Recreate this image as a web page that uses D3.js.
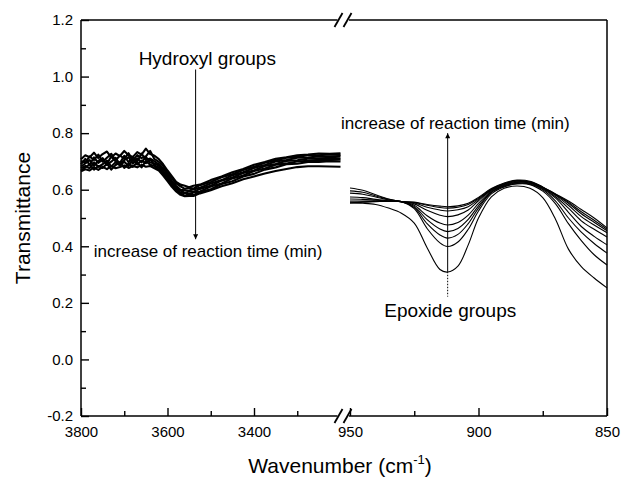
<!DOCTYPE html>
<html lang="en">
  <head>
    <meta charset="UTF-8" />
    <title>Transmittance vs Wavenumber</title>
    <script src="https://d3js.org/d3.v7.min.js"></script>
    <style>
      body {
        margin: 0;
        background: #fff;
        font-family: "Liberation Sans", Arial, Helvetica, sans-serif;
      }
      .tick text {
        font-size: 15px;
        fill: #000;
        font-family: "Liberation Sans", Arial, sans-serif;
      }
      .spectrum {
        fill: none;
        stroke: #000;
        stroke-linejoin: round;
      }
      .frame line {
        stroke: #000;
        stroke-width: 1.5;
      }
    </style>
  </head>
  <body>
    <div id="chart"></div>
    <script>
      // ---- data ----
      // hydroxyl region (left panel)
      const ohWavenumber = [
        3800, 3790, 3780, 3770, 3760, 3750, 3740, 3730, 3720, 3710, 3700, 3690,
        3680, 3670, 3660, 3650, 3640, 3630, 3620, 3610, 3600, 3590, 3580, 3570,
        3560, 3550, 3540, 3525, 3500, 3475, 3450, 3425, 3400, 3375, 3350, 3325,
        3300, 3275, 3250, 3225, 3200,
      ];
      const ohRun1 = [
        0.708, 0.722, 0.715, 0.731, 0.712, 0.726, 0.735, 0.714, 0.728, 0.719,
        0.737, 0.722, 0.716, 0.733, 0.724, 0.745, 0.726, 0.72, 0.708, 0.69, 0.668,
        0.648, 0.628, 0.618, 0.614, 0.609, 0.614, 0.618, 0.634, 0.647, 0.662,
        0.673, 0.688, 0.698, 0.709, 0.715, 0.722, 0.724, 0.728, 0.727, 0.729,
      ];
      const ohRun2 = [
        0.702, 0.696, 0.718, 0.705, 0.724, 0.699, 0.713, 0.727, 0.704, 0.721,
        0.71, 0.729, 0.703, 0.722, 0.712, 0.718, 0.737, 0.708, 0.698, 0.684, 0.66,
        0.642, 0.622, 0.612, 0.603, 0.607, 0.604, 0.616, 0.627, 0.644, 0.655,
        0.67, 0.681, 0.695, 0.703, 0.713, 0.716, 0.722, 0.722, 0.725, 0.723,
      ];
      const ohRun3 = [
        0.69, 0.709, 0.688, 0.714, 0.695, 0.706, 0.691, 0.718, 0.7, 0.694, 0.72,
        0.697, 0.716, 0.7, 0.728, 0.705, 0.71, 0.7, 0.69, 0.675, 0.655, 0.632,
        0.614, 0.6, 0.598, 0.597, 0.602, 0.607, 0.622, 0.634, 0.651, 0.662, 0.677,
        0.687, 0.7, 0.705, 0.713, 0.714, 0.718, 0.717, 0.719,
      ];
      const ohRun4 = [
        0.682, 0.693, 0.705, 0.684, 0.702, 0.712, 0.688, 0.699, 0.713, 0.69,
        0.705, 0.715, 0.692, 0.711, 0.697, 0.716, 0.696, 0.693, 0.684, 0.666,
        0.648, 0.626, 0.607, 0.598, 0.589, 0.594, 0.593, 0.603, 0.614, 0.632,
        0.643, 0.659, 0.668, 0.684, 0.691, 0.702, 0.704, 0.71, 0.71, 0.713, 0.711,
      ];
      const ohRun5 = [
        0.676, 0.684, 0.676, 0.697, 0.681, 0.69, 0.703, 0.682, 0.697, 0.686,
        0.699, 0.684, 0.706, 0.689, 0.703, 0.694, 0.708, 0.686, 0.678, 0.66,
        0.643, 0.62, 0.604, 0.59, 0.588, 0.584, 0.59, 0.594, 0.611, 0.622, 0.64,
        0.65, 0.666, 0.675, 0.688, 0.693, 0.7, 0.702, 0.706, 0.705, 0.707,
      ];
      const ohRun6 = [
        0.668, 0.679, 0.69, 0.671, 0.684, 0.677, 0.692, 0.671, 0.687, 0.698,
        0.677, 0.693, 0.681, 0.696, 0.679, 0.701, 0.688, 0.684, 0.671, 0.655,
        0.634, 0.616, 0.597, 0.588, 0.578, 0.585, 0.581, 0.592, 0.602, 0.62, 0.63,
        0.647, 0.656, 0.671, 0.679, 0.69, 0.692, 0.698, 0.698, 0.701, 0.7,
      ];
      const ohRun7 = [
        0.665, 0.672, 0.668, 0.679, 0.67, 0.681, 0.673, 0.684, 0.676, 0.68, 0.686,
        0.677, 0.684, 0.679, 0.688, 0.681, 0.684, 0.676, 0.668, 0.65, 0.63, 0.61,
        0.594, 0.582, 0.577, 0.578, 0.578, 0.587, 0.598, 0.612, 0.623, 0.637,
        0.647, 0.657, 0.666, 0.673, 0.68, 0.683, 0.683, 0.682, 0.681,
      ];
      const ohSeries = [ohRun1, ohRun2, ohRun3, ohRun4, ohRun5, ohRun6, ohRun7];

      // epoxide region (right panel)
      const epWavenumber = [
        950, 945, 940, 935, 930, 925, 920, 915, 912, 908, 904, 900, 895, 890, 885,
        880, 875, 870, 865, 860, 855, 850,
      ];
      const epRun0 = [
        0.553, 0.552, 0.548, 0.535, 0.517, 0.482, 0.395, 0.318, 0.309, 0.33, 0.405,
        0.5, 0.575, 0.605, 0.613, 0.605, 0.572, 0.495, 0.39, 0.328, 0.288, 0.253,
      ];
      const epRun1 = [
        0.553, 0.556, 0.558, 0.559, 0.558, 0.533, 0.463, 0.412, 0.399, 0.415, 0.46,
        0.525, 0.585, 0.61, 0.62, 0.618, 0.595, 0.55, 0.48, 0.42, 0.37, 0.334,
      ];
      const epRun2 = [
        0.556, 0.557, 0.559, 0.559, 0.558, 0.537, 0.48, 0.44, 0.429, 0.442, 0.48,
        0.535, 0.59, 0.612, 0.622, 0.62, 0.6, 0.56, 0.5, 0.45, 0.41, 0.376,
      ];
      const epRun3 = [
        0.56, 0.56, 0.56, 0.559, 0.558, 0.541, 0.494, 0.461, 0.452, 0.463, 0.495,
        0.543, 0.592, 0.614, 0.624, 0.622, 0.603, 0.57, 0.52, 0.47, 0.435, 0.405,
      ];
      const epRun4 = [
        0.567, 0.566, 0.563, 0.56, 0.558, 0.545, 0.508, 0.482, 0.475, 0.484, 0.51,
        0.552, 0.595, 0.616, 0.626, 0.624, 0.605, 0.575, 0.535, 0.49, 0.46, 0.433,
      ];
      const epRun5 = [
        0.574, 0.572, 0.566, 0.561, 0.558, 0.55, 0.527, 0.51, 0.505, 0.511, 0.528,
        0.561, 0.598, 0.618, 0.628, 0.626, 0.607, 0.58, 0.545, 0.505, 0.475, 0.448,
      ];
      const epRun6 = [
        0.588, 0.584, 0.574, 0.564, 0.558, 0.553, 0.538, 0.528, 0.525, 0.529, 0.54,
        0.566, 0.6, 0.62, 0.63, 0.627, 0.608, 0.582, 0.552, 0.515, 0.485, 0.455,
      ];
      const epRun7 = [
        0.596, 0.591, 0.578, 0.566, 0.558, 0.555, 0.545, 0.537, 0.535, 0.538, 0.548,
        0.57, 0.602, 0.622, 0.632, 0.628, 0.609, 0.584, 0.556, 0.522, 0.492, 0.46,
      ];
      const epRun8 = [
        0.606, 0.598, 0.582, 0.567, 0.558, 0.556, 0.548, 0.542, 0.54, 0.543, 0.552,
        0.573, 0.604, 0.624, 0.634, 0.63, 0.61, 0.585, 0.56, 0.53, 0.5, 0.465,
      ];
      const epSeries = [
        epRun0, epRun1, epRun2, epRun3, epRun4, epRun5, epRun6, epRun7, epRun8,
      ];

      // ticks
      const yTicks = [-0.2, 0, 0.2, 0.4, 0.6, 0.8, 1.0, 1.2];
      const yMinor = [-0.1, 0.1, 0.3, 0.5, 0.7, 0.9, 1.1];
      const xLeftTicks = [3800, 3600, 3400];
      const xLeftMinor = [3700, 3500, 3300];
      const xRightTicks = [950, 900, 850];
      const xRightMinor = [925, 875];

      // ---- layout ----
      const W = 621,
        H = 481;
      const plot = { left: 81, right: 607, top: 20, bottom: 416 };
      const breakLeft = 340.5,
        breakRight = 350;

      const svg = d3
        .select("#chart")
        .append("svg")
        .attr("width", W)
        .attr("height", H);

      const y = d3.scaleLinear().domain([-0.2, 1.2]).range([plot.bottom, plot.top]);
      const xL = d3.scaleLinear().domain([3800, 3200]).range([plot.left, breakLeft]);
      const xR = d3.scaleLinear().domain([950, 850]).range([breakRight, plot.right]);

      // y axis: ticks point into the plot, labels outside
      function yAxis(values, len, labels) {
        const g = svg
          .append("g")
          .attr("transform", `translate(${plot.left},0)`)
          .call(d3.axisRight(y).tickValues(values).tickSize(len).tickFormat((d) => (labels ? d.toFixed(1) : "")));
        g.select(".domain").remove();
        g.selectAll(".tick line").attr("stroke", "#000").attr("stroke-width", 1.4);
        g.selectAll(".tick text").attr("x", -8).attr("text-anchor", "end");
      }
      yAxis(yTicks, 8, true);
      yAxis(yMinor, 5, false);

      // bottom axes, one per panel
      function xAxis(sc, values, len, labels) {
        const g = svg
          .append("g")
          .attr("transform", `translate(0,${plot.bottom})`)
          .call(d3.axisTop(sc).tickValues(values).tickSize(len).tickFormat(labels ? d3.format("d") : () => ""));
        g.select(".domain").remove();
        g.selectAll(".tick line").attr("stroke", "#000").attr("stroke-width", 1.4);
        g.selectAll(".tick text").attr("y", 10).attr("dy", "0.71em");
      }
      xAxis(xL, xLeftTicks, 8, true);
      xAxis(xL, xLeftMinor, 5, false);
      xAxis(xR, xRightTicks, 8, true);
      xAxis(xR, xRightMinor, 5, false);

      // frame with axis break
      const gap0 = breakLeft - 3,
        gap1 = breakRight - 1;
      const frame = svg.append("g").attr("class", "frame");
      [
        [plot.left, plot.top, plot.left, plot.bottom],
        [plot.right, plot.top, plot.right, plot.bottom],
        [plot.left, plot.top, gap0, plot.top],
        [gap1, plot.top, plot.right, plot.top],
        [plot.left, plot.bottom, gap0, plot.bottom],
        [gap1, plot.bottom, plot.right, plot.bottom],
      ].forEach(([x1, y1, x2, y2]) => {
        frame.append("line").attr("x1", x1).attr("y1", y1).attr("x2", x2).attr("y2", y2);
      });
      [plot.top, plot.bottom].forEach((yy) => {
        [gap0 - 3, gap0 + 6].forEach((xx) => {
          svg
            .append("line")
            .attr("x1", xx)
            .attr("y1", yy + 7)
            .attr("x2", xx + 8)
            .attr("y2", yy - 7)
            .attr("stroke", "#000")
            .attr("stroke-width", 1.8);
        });
      });

      // spectra
      const lineL = d3
        .line()
        .x((d) => xL(d[0]))
        .y((d) => y(d[1]));
      ohSeries.forEach((run) => {
        svg
          .append("path")
          .attr("class", "spectrum")
          .attr("stroke-width", 2.1)
          .attr("d", lineL(d3.zip(ohWavenumber, run)));
      });

      const lineR = d3
        .line()
        .x((d) => xR(d[0]))
        .y((d) => y(d[1]))
        .curve(d3.curveCatmullRom.alpha(0.5));
      epSeries.forEach((run) => {
        svg
          .append("path")
          .attr("class", "spectrum")
          .attr("stroke-width", 1.1)
          .attr("d", lineR(d3.zip(epWavenumber, run)));
      });

      // annotations
      const defs = svg.append("defs");
      defs
        .append("marker")
        .attr("id", "head")
        .attr("viewBox", "0 0 10 10")
        .attr("refX", 10)
        .attr("refY", 5)
        .attr("markerWidth", 9)
        .attr("markerHeight", 5)
        .attr("markerUnits", "userSpaceOnUse")
        .attr("orient", "auto")
        .append("path")
        .attr("d", "M0,0 L10,5 L0,10 Z")
        .attr("fill", "#000");

      svg
        .append("line")
        .attr("x1", xL(3535))
        .attr("x2", xL(3535))
        .attr("y1", y(1.025))
        .attr("y2", y(0.425))
        .attr("stroke", "#000")
        .attr("stroke-width", 1)
        .attr("marker-end", "url(#head)");

      svg
        .append("line")
        .attr("x1", xR(912))
        .attr("x2", xR(912))
        .attr("y1", y(0.31))
        .attr("y2", y(0.8))
        .attr("stroke", "#000")
        .attr("stroke-width", 1)
        .attr("marker-end", "url(#head)");
      svg
        .append("line")
        .attr("x1", xR(912))
        .attr("x2", xR(912))
        .attr("y1", y(0.31))
        .attr("y2", y(0.222))
        .attr("stroke", "#000")
        .attr("stroke-width", 1)
        .attr("stroke-dasharray", "1.5,1.5");

      const notes = [
        { text: "Hydroxyl groups", x: xL(3508), y: y(1.041), size: 19 },
        { text: "increase of reaction time (min)", x: xL(3506), y: y(0.363), size: 17 },
        { text: "increase of reaction time (min)", x: xR(909), y: y(0.813), size: 17 },
        { text: "Epoxide groups", x: xR(911), y: y(0.15), size: 19 },
      ];
      notes.forEach((n) => {
        svg
          .append("text")
          .attr("x", n.x)
          .attr("y", n.y)
          .attr("text-anchor", "middle")
          .attr("font-size", n.size)
          .text(n.text);
      });

      // axis titles
      svg
        .append("text")
        .attr("transform", `translate(30,${(plot.top + plot.bottom) / 2}) rotate(-90)`)
        .attr("text-anchor", "middle")
        .attr("font-size", 21)
        .text("Transmittance");

      const xTitle = svg
        .append("text")
        .attr("x", 340)
        .attr("y", 473)
        .attr("text-anchor", "middle")
        .attr("font-size", 21);
      xTitle.append("tspan").text("Wavenumber (cm");
      xTitle.append("tspan").attr("font-size", 13).attr("dy", -9).text("-1");
      xTitle.append("tspan").attr("dy", 9).text(")");
    </script>
  </body>
</html>
